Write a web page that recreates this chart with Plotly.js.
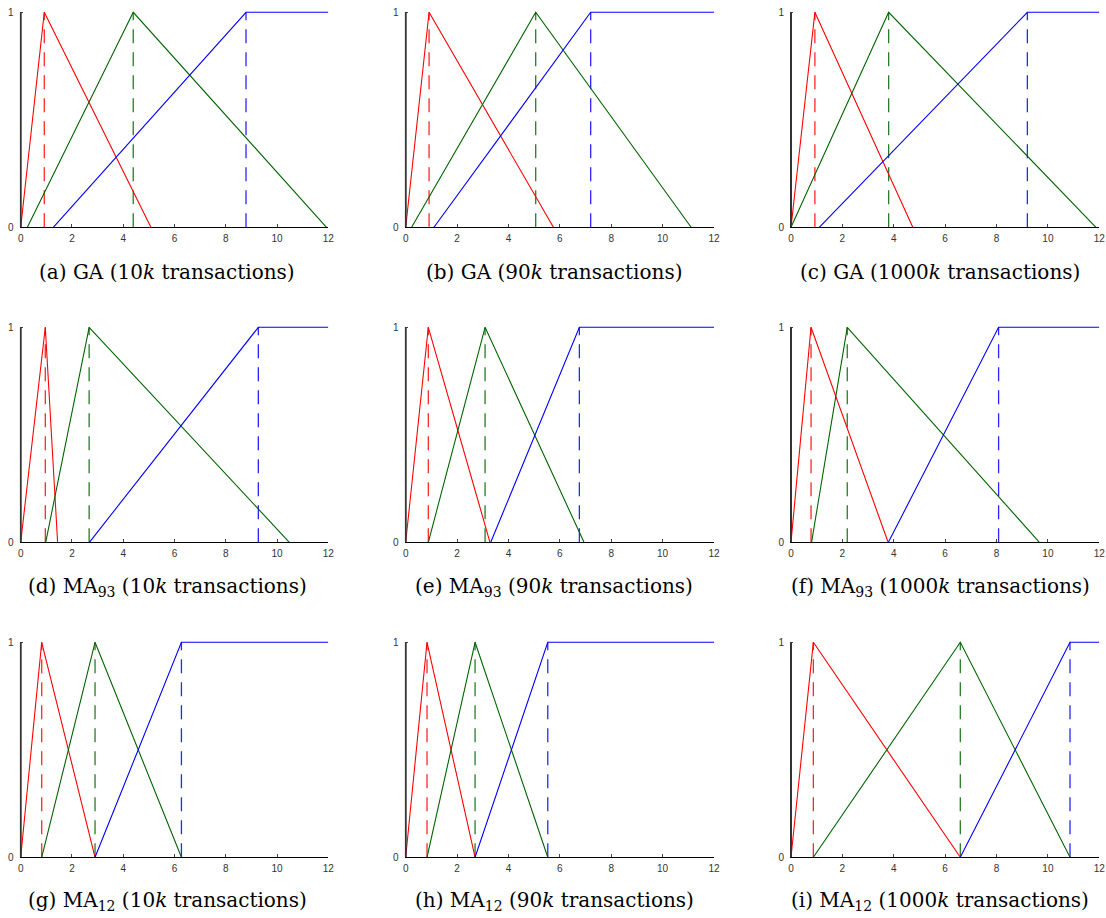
<!DOCTYPE html>
<html>
<head>
<meta charset="utf-8">
<script src="https://cdn.plot.ly/plotly-3.0.1.min.js"></script>
<style>html,body{margin:0;padding:0;background:#fff;}#chart{width:1106px;height:918px;}</style>
</head>
<body>
<div id="chart"></div>
<script>
// Panel captions
const captions = [
  '(a) GA (10<i>k</i> transactions)',
  '(b) GA (90<i>k</i> transactions)',
  '(c) GA (1000<i>k</i> transactions)',
  '(d) MA<sub>93</sub> (10<i>k</i> transactions)',
  '(e) MA<sub>93</sub> (90<i>k</i> transactions)',
  '(f) MA<sub>93</sub> (1000<i>k</i> transactions)',
  '(g) MA<sub>12</sub> (10<i>k</i> transactions)',
  '(h) MA<sub>12</sub> (90<i>k</i> transactions)',
  '(i) MA<sub>12</sub> (1000<i>k</i> transactions)'
];
// Membership function break points (x values) per panel
const redStart   = [0, 0, 0, 0, 0, 0, 0, 0, 0];
const redPeak    = [0.92, 0.91, 0.93, 0.96, 0.88, 0.78, 0.82, 0.83, 0.87];
const redEnd     = [5.08, 5.75, 4.74, 1.44, 3.28, 3.78, 2.90, 2.70, 6.59];
const greenStart = [0.26, 0.23, 0.00, 0.975, 0.88, 0.80, 0.82, 0.83, 0.87];
const greenPeak  = [4.39, 5.06, 3.80, 2.67, 3.09, 2.19, 2.90, 2.70, 6.59];
const greenEnd   = [11.93, 11.11, 11.87, 10.48, 6.94, 9.67, 6.27, 5.53, 10.86];
const blueStart  = [1.27, 1.10, 1.10, 2.68, 3.31, 3.79, 2.90, 2.70, 6.59];
const bluePeak   = [8.79, 7.20, 9.20, 9.27, 6.76, 8.08, 6.27, 5.53, 10.86];
const xMax = 12;
const xTicks = [0, 2, 4, 6, 8, 10, 12];
const yTicks = [0, 1];

const RED = '#ff0000', GREEN = '#006400', BLUE = '#0000ff';
const W = 1106, H = 918;
const colLeft = [20.7, 405.7, 791];     // pixel of x=0
const colRight = [328.3, 714, 1099.3];  // pixel of x=12
const rowY0 = [227.3, 542.3, 857.3];    // pixel of y=0
const plotH = 215;                       // pixel height of 0..1
const yTop = 1.02;
const xLeft = -0.04;
const capX = [167, 554, 940];
const capY = [272, 587, 901];

const traces = [];
const layout = {
  width: W, height: H,
  margin: {l: 0, r: 0, t: 0, b: 0},
  paper_bgcolor: '#fff', plot_bgcolor: '#fff',
  showlegend: false,
  annotations: [], shapes: []
};
const tickFont = {family: 'Liberation Sans, Arial, sans-serif', size: 10, color: '#333'};

for (let i = 0; i < 9; i++) {
  const r = Math.floor(i / 3), c = i % 3;
  const s = i === 0 ? '' : String(i + 1);
  const xa = 'x' + s, ya = 'y' + s;
  const solid = (x, y, col) => ({x, y, type: 'scatter', mode: 'lines', xaxis: xa, yaxis: ya,
    line: {color: col, width: 1.1}, hoverinfo: 'skip'});
  const dashed = (xv, col) => ({x: [xv, xv], y: [0, 1], type: 'scatter', mode: 'lines', xaxis: xa, yaxis: ya,
    line: {color: col, width: 1.3, dash: '14px,9px'}, opacity: 0.85, hoverinfo: 'skip'});
  traces.push(dashed(redPeak[i], RED));
  traces.push(dashed(greenPeak[i], GREEN));
  traces.push(dashed(bluePeak[i], BLUE));
  traces.push(solid([redStart[i], redPeak[i], redEnd[i]], [0, 1, 0], RED));
  traces.push(solid([greenStart[i], greenPeak[i], greenEnd[i]], [0, 1, 0], GREEN));
  traces.push(solid([blueStart[i], bluePeak[i], xMax], [0, 1, 1], BLUE));

  const unit = (colRight[c] - colLeft[c]) / xMax;
  const bottom = 1 - rowY0[r] / H;
  const top = 1 - (rowY0[r] - plotH * yTop) / H;
  layout['xaxis' + s] = {
    domain: [(colLeft[c] + xLeft * unit) / W, colRight[c] / W], anchor: ya, range: [xLeft, xMax],
    tickvals: xTicks, ticktext: xTicks.map(String), ticks: 'inside', ticklen: 3, tickwidth: 1, tickcolor: '#444',
    tickfont: tickFont, ticklabelstandoff: 2,
    showline: true, linecolor: '#000', linewidth: 1, showgrid: false, zeroline: false, fixedrange: true
  };
  layout['yaxis' + s] = {
    domain: [bottom, top], anchor: xa, range: [0, yTop],
    tickvals: yTicks, ticktext: yTicks.map(String), ticks: 'inside', ticklen: 3, tickwidth: 1, tickcolor: '#444',
    tickfont: tickFont, ticklabelstandoff: 5,
    showline: false, showgrid: false, zeroline: false, fixedrange: true
  };
  // left axis line (0..1 only)
  layout.shapes.push({type: 'line', xref: xa, yref: ya, x0: 0, x1: 0, y0: 0, y1: 1,
    line: {color: '#333', width: 2}, layer: 'above'});
  layout.annotations.push({
    text: captions[i], xref: 'paper', yref: 'paper', x: capX[c] / W, y: 1 - capY[r] / H,
    xanchor: 'center', yanchor: 'middle', showarrow: false,
    font: {family: 'DejaVu Serif, serif', size: 20, color: '#000'}
  });
}

Plotly.newPlot('chart', traces, layout, {displayModeBar: false, staticPlot: true});
</script>
</body>
</html>
